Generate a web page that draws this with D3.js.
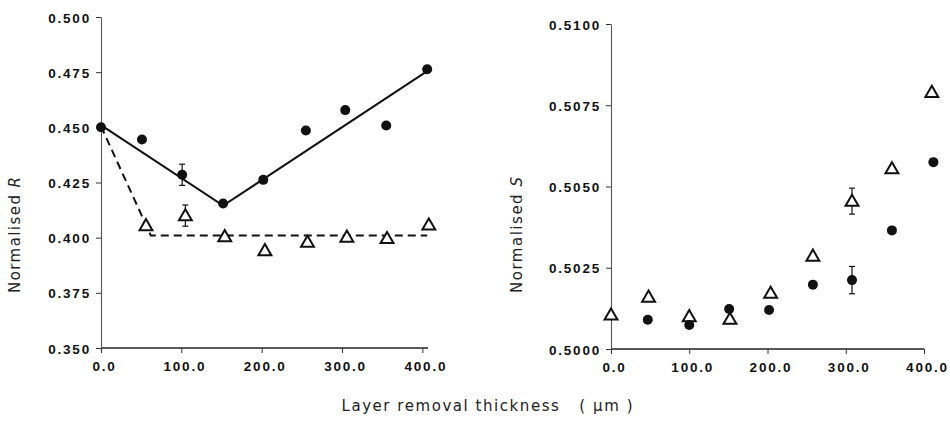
<!DOCTYPE html>
<html>
<head>
<meta charset="utf-8">
<script src="https://cdn.jsdelivr.net/npm/d3@7"></script>
<style>
html,body{margin:0;padding:0;background:#fff;}
svg{display:block;}
.tick text{font-family:"Liberation Sans",Arial,sans-serif;font-weight:bold;font-size:13.5px;letter-spacing:1.8px;fill:#111;}
.title{font-family:"DejaVu Sans","Noto Sans",sans-serif;font-size:15px;fill:#222;}
</style>
</head>
<body>
<svg id="chart" width="950" height="425"></svg>
<script>
// ---- Data ----
// Left panel: Normalised R
const rCircleX = [0, 51, 101, 152, 202, 255, 304, 355, 406];
const rCircleY = [0.450, 0.4445, 0.4285, 0.4155, 0.4262, 0.4486, 0.4578, 0.4508, 0.4763];
const rTriX = [56, 105, 154, 204, 257, 306, 356, 408];
const rTriY = [0.4055, 0.4100, 0.4005, 0.3942, 0.3980, 0.4003, 0.3997, 0.4058];
const rSolidX = [0, 152, 406];
const rSolidY = [0.451, 0.4145, 0.4755];
const rDashX = [0, 62, 406];
const rDashY = [0.4505, 0.4010, 0.4010];
// error bars: [x, y, half-width]
const rErrCircle = [[101, 0.4285, 0.0048]];
const rErrTri = [[105, 0.4100, 0.0048]];
const rYTicks = [0.350, 0.375, 0.400, 0.425, 0.450, 0.475, 0.500];
const xTicks = [0, 100, 200, 300, 400];

// Right panel: Normalised S
const sTriX = [0, 48, 100, 152, 204, 258, 308, 359, 410];
const sTriY = [0.50105, 0.50160, 0.50100, 0.50092, 0.50172, 0.50286, 0.50455, 0.50555, 0.50790];
const sCircleX = [47, 100, 151, 202, 258, 308, 359, 412];
const sCircleY = [0.50090, 0.50074, 0.50123, 0.50120, 0.50198, 0.50212, 0.50365, 0.50575];
const sErrCircle = [[308, 0.50212, 0.00042]];
const sErrTri = [[308, 0.50455, 0.00040]];
const sYTicks = [0.5000, 0.5025, 0.5050, 0.5075, 0.5100];

const svg = d3.select("#chart");

function panel(opt) {
  const g = svg.append("g");
  const x = d3.scaleLinear().domain(opt.xDomain).range(opt.xRange);
  const y = d3.scaleLinear().domain(opt.yDomain).range(opt.yRange);

  // axes
  const xAxis = d3.axisBottom(x).tickValues(xTicks).tickFormat(d3.format(".1f")).tickSize(5).tickSizeOuter(0);
  const gx = g.append("g").attr("transform", `translate(0,${opt.yRange[0]})`).call(xAxis);
  gx.select(".domain").attr("stroke", "#222").attr("stroke-width", 1.3)
    .attr("d", `M${opt.xRange[0]},0H${opt.xRange[1]}`);
  gx.selectAll(".tick line").attr("stroke", "#333");
  gx.selectAll(".tick text").attr("dy", "1.1em").attr("dx", 3);

  const yAxis = d3.axisLeft(y).tickValues(opt.yTicks).tickFormat(d3.format(opt.yFmt)).tickSize(5).tickSizeOuter(0);
  const gy = g.append("g").attr("transform", `translate(${opt.xRange[0]},0)`).call(yAxis);
  gy.select(".domain").attr("stroke", "#555").attr("stroke-width", 1.1);
  gy.selectAll(".tick line").attr("stroke", "#333");
  gy.selectAll(".tick text").attr("dx", -2).attr("dy", "0.38em");

  // y title
  g.append("text").attr("class", "title")
    .attr("transform", `translate(${opt.titleX},${opt.titleY}) rotate(-90)`)
    .attr("text-anchor", "middle")
    .attr("textLength", 116).attr("lengthAdjust", "spacing")
    .html(opt.titleHtml);

  // lines
  const line = d3.line().x(d => x(d[0])).y(d => y(d[1]));
  if (opt.solid) {
    g.append("path").datum(d3.zip(opt.solid[0], opt.solid[1]))
      .attr("d", line).attr("fill", "none").attr("stroke", "#111").attr("stroke-width", 2);
  }
  if (opt.dash) {
    g.append("path").datum(d3.zip(opt.dash[0], opt.dash[1]))
      .attr("d", line).attr("fill", "none").attr("stroke", "#111").attr("stroke-width", 2)
      .attr("stroke-dasharray", "8,5");
  }

  // error bars
  const errs = opt.errs || [];
  errs.forEach(e => {
    const cx = x(e[0]), y1 = y(e[1] + e[2]), y2 = y(e[1] - e[2]);
    g.append("line").attr("x1", cx).attr("x2", cx).attr("y1", y1).attr("y2", y2).attr("stroke", "#111").attr("stroke-width", 1.2);
    [y1, y2].forEach(yy => g.append("line").attr("x1", cx - 3).attr("x2", cx + 3).attr("y1", yy).attr("y2", yy).attr("stroke", "#111").attr("stroke-width", 1.2));
  });

  // triangles
  const tri = d3.symbol().type(d3.symbolTriangle).size(72);
  g.selectAll(null).data(d3.zip(opt.tri[0], opt.tri[1])).join("path")
    .attr("d", tri)
    .attr("transform", d => `translate(${x(d[0])},${y(d[1]) + 1})`)
    .attr("fill", "#fff").attr("stroke", "#111").attr("stroke-width", 2);

  // circles
  g.selectAll(null).data(d3.zip(opt.circ[0], opt.circ[1])).join("circle")
    .attr("cx", d => x(d[0])).attr("cy", d => y(d[1])).attr("r", 5)
    .attr("fill", "#111");
}

panel({
  xDomain: [0, 407], xRange: [101, 428],
  yDomain: [0.350, 0.500], yRange: [348, 17],
  yTicks: rYTicks, yFmt: ".3f",
  titleX: 20, titleY: 235,
  titleHtml: 'Normalised <tspan font-style="italic">R</tspan>',
  solid: [rSolidX, rSolidY], dash: [rDashX, rDashY],
  errs: rErrCircle.concat(rErrTri),
  tri: [rTriX, rTriY], circ: [rCircleX, rCircleY]
});

panel({
  xDomain: [0, 400], xRange: [611, 924],
  yDomain: [0.5000, 0.5100], yRange: [349, 24],
  yTicks: sYTicks, yFmt: ".4f",
  titleX: 522, titleY: 235,
  titleHtml: 'Normalised <tspan font-style="italic">S</tspan>',
  errs: sErrCircle.concat(sErrTri),
  tri: [sTriX, sTriY], circ: [sCircleX, sCircleY]
});

svg.append("text").attr("class", "title")
  .attr("x", 487).attr("y", 411).attr("text-anchor", "middle")
  .attr("xml:space", "preserve")
  .attr("textLength", 291).attr("lengthAdjust", "spacing")
  .style("white-space", "pre")
  .text("Layer removal thickness   ( \u00b5m )");
</script>
</body>
</html>
